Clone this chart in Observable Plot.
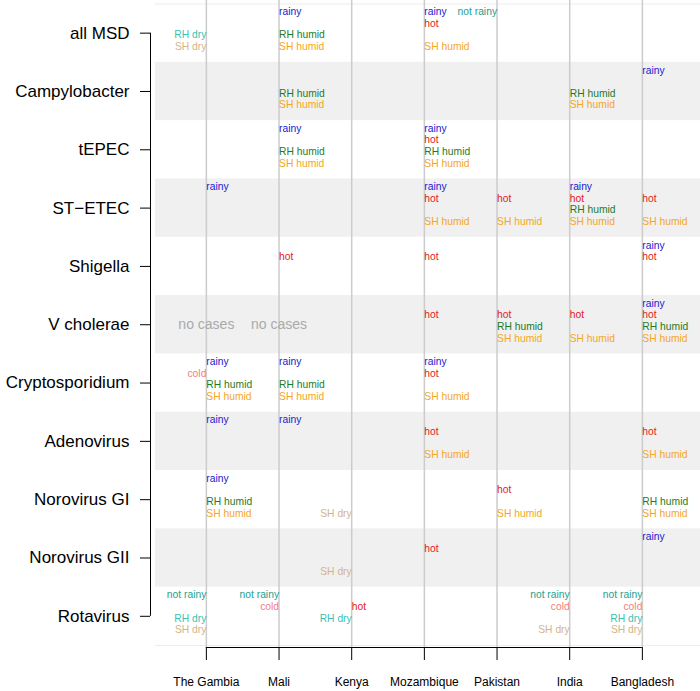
<!DOCTYPE html>
<html>
<head>
<meta charset="utf-8">
<script src="https://cdn.jsdelivr.net/npm/d3@7"></script>
<script src="https://cdn.jsdelivr.net/npm/@observablehq/plot@0.6"></script>
<style>
  html, body { margin: 0; padding: 0; background: white; }
</style>
</head>
<body>
<div id="chart"></div>
<script>
// ---- data ----
const pathogens = ["all MSD", "Campylobacter", "tEPEC", "ST\u2212ETEC", "Shigella", "V cholerae",
  "Cryptosporidium", "Adenovirus", "Norovirus GI", "Norovirus GII", "Rotavirus"];
const countries = ["The Gambia", "Mali", "Kenya", "Mozambique", "Pakistan", "India", "Bangladesh"];

// [pathogen, country, association]
const associations = [
  ["all MSD", "The Gambia", "RH dry"],
  ["all MSD", "The Gambia", "SH dry"],
  ["all MSD", "Mali", "rainy"],
  ["all MSD", "Mali", "RH humid"],
  ["all MSD", "Mali", "SH humid"],
  ["all MSD", "Mozambique", "rainy"],
  ["all MSD", "Mozambique", "hot"],
  ["all MSD", "Mozambique", "SH humid"],
  ["all MSD", "Pakistan", "not rainy"],

  ["Campylobacter", "Mali", "RH humid"],
  ["Campylobacter", "Mali", "SH humid"],
  ["Campylobacter", "India", "RH humid"],
  ["Campylobacter", "India", "SH humid"],
  ["Campylobacter", "Bangladesh", "rainy"],

  ["tEPEC", "Mali", "rainy"],
  ["tEPEC", "Mali", "RH humid"],
  ["tEPEC", "Mali", "SH humid"],
  ["tEPEC", "Mozambique", "rainy"],
  ["tEPEC", "Mozambique", "hot"],
  ["tEPEC", "Mozambique", "RH humid"],
  ["tEPEC", "Mozambique", "SH humid"],

  ["ST\u2212ETEC", "The Gambia", "rainy"],
  ["ST\u2212ETEC", "Mozambique", "rainy"],
  ["ST\u2212ETEC", "Mozambique", "hot"],
  ["ST\u2212ETEC", "Mozambique", "SH humid"],
  ["ST\u2212ETEC", "Pakistan", "hot"],
  ["ST\u2212ETEC", "Pakistan", "SH humid"],
  ["ST\u2212ETEC", "India", "rainy"],
  ["ST\u2212ETEC", "India", "hot"],
  ["ST\u2212ETEC", "India", "RH humid"],
  ["ST\u2212ETEC", "India", "SH humid"],
  ["ST\u2212ETEC", "Bangladesh", "hot"],
  ["ST\u2212ETEC", "Bangladesh", "SH humid"],

  ["Shigella", "Mali", "hot"],
  ["Shigella", "Mozambique", "hot"],
  ["Shigella", "Bangladesh", "rainy"],
  ["Shigella", "Bangladesh", "hot"],

  ["V cholerae", "Mozambique", "hot"],
  ["V cholerae", "Pakistan", "hot"],
  ["V cholerae", "Pakistan", "RH humid"],
  ["V cholerae", "Pakistan", "SH humid"],
  ["V cholerae", "India", "hot"],
  ["V cholerae", "India", "SH humid"],
  ["V cholerae", "Bangladesh", "rainy"],
  ["V cholerae", "Bangladesh", "hot"],
  ["V cholerae", "Bangladesh", "RH humid"],
  ["V cholerae", "Bangladesh", "SH humid"],

  ["Cryptosporidium", "The Gambia", "rainy"],
  ["Cryptosporidium", "The Gambia", "cold"],
  ["Cryptosporidium", "The Gambia", "RH humid"],
  ["Cryptosporidium", "The Gambia", "SH humid"],
  ["Cryptosporidium", "Mali", "rainy"],
  ["Cryptosporidium", "Mali", "RH humid"],
  ["Cryptosporidium", "Mali", "SH humid"],
  ["Cryptosporidium", "Mozambique", "rainy"],
  ["Cryptosporidium", "Mozambique", "hot"],
  ["Cryptosporidium", "Mozambique", "SH humid"],

  ["Adenovirus", "The Gambia", "rainy"],
  ["Adenovirus", "Mali", "rainy"],
  ["Adenovirus", "Mozambique", "hot"],
  ["Adenovirus", "Mozambique", "SH humid"],
  ["Adenovirus", "Bangladesh", "hot"],
  ["Adenovirus", "Bangladesh", "SH humid"],

  ["Norovirus GI", "The Gambia", "rainy"],
  ["Norovirus GI", "The Gambia", "RH humid"],
  ["Norovirus GI", "The Gambia", "SH humid"],
  ["Norovirus GI", "Kenya", "SH dry"],
  ["Norovirus GI", "Pakistan", "hot"],
  ["Norovirus GI", "Pakistan", "SH humid"],
  ["Norovirus GI", "Bangladesh", "RH humid"],
  ["Norovirus GI", "Bangladesh", "SH humid"],

  ["Norovirus GII", "Kenya", "SH dry"],
  ["Norovirus GII", "Mozambique", "hot"],
  ["Norovirus GII", "Bangladesh", "rainy"],

  ["Rotavirus", "The Gambia", "not rainy"],
  ["Rotavirus", "The Gambia", "RH dry"],
  ["Rotavirus", "The Gambia", "SH dry"],
  ["Rotavirus", "Mali", "not rainy"],
  ["Rotavirus", "Mali", "cold"],
  ["Rotavirus", "Kenya", "hot"],
  ["Rotavirus", "Kenya", "RH dry"],
  ["Rotavirus", "India", "not rainy"],
  ["Rotavirus", "India", "cold"],
  ["Rotavirus", "India", "SH dry"],
  ["Rotavirus", "Bangladesh", "not rainy"],
  ["Rotavirus", "Bangladesh", "cold"],
  ["Rotavirus", "Bangladesh", "RH dry"],
  ["Rotavirus", "Bangladesh", "SH dry"]
];

const noCases = [
  ["V cholerae", "The Gambia"],
  ["V cholerae", "Mali"]
];

// ---- styling ----
const slotDy = [-21.2, -9.6, 2, 13.6];
const labelStyle = {
  "rainy":     {slot: 0, anchor: "start", color: "#2020d0"},
  "not rainy": {slot: 0, anchor: "end",   color: "#26a090"},
  "hot":       {slot: 1, anchor: "start", color: "#e31a1c"},
  "cold":      {slot: 1, anchor: "end",   color: "#f08080"},
  "RH humid":  {slot: 2, anchor: "start", color: "#1f7a1f"},
  "RH dry":    {slot: 2, anchor: "end",   color: "#3cbfb2"},
  "SH humid":  {slot: 3, anchor: "start", color: "#f5a623"},
  "SH dry":    {slot: 3, anchor: "end",   color: "#d2b48c"}
};

const xDomain = [-0.7, 6.8];
const yDomain = [10.535, -0.56];
const rowIdx = d3.range(pathogens.length);
const colIdx = d3.range(countries.length);
const bandRows = rowIdx.filter(i => i % 2 === 1);

const textMarks = Object.entries(labelStyle).map(([key, s]) =>
  Plot.text(associations.filter(d => d[2] === key), {
    x: d => countries.indexOf(d[1]),
    y: d => pathogens.indexOf(d[0]),
    text: d => d[2],
    fill: s.color,
    textAnchor: s.anchor,
    dy: slotDy[s.slot],
    fontSize: 10.3
  })
);

const chart = Plot.plot({
  width: 700,
  height: 691,
  marginLeft: 155,
  marginRight: 0,
  marginTop: 0,
  marginBottom: 44,
  x: {domain: xDomain, axis: null},
  y: {domain: yDomain, axis: null},
  style: {fontFamily: "'Liberation Sans', Arial, Helvetica, sans-serif", background: "white", color: "black"},
  marks: [
    Plot.rect(bandRows, {x1: xDomain[0], x2: xDomain[1], y1: i => i - 0.5, y2: i => i + 0.5, fill: "#f0f0f0"}),
    Plot.ruleY([-0.5, pathogens.length - 0.5], {x1: xDomain[0], x2: xDomain[1], stroke: "#ececec", strokeWidth: 1}),
    Plot.ruleX(colIdx, {stroke: "#cccccc", strokeWidth: 1.5}),
    ...textMarks,
    Plot.text(noCases, {
      x: d => countries.indexOf(d[1]),
      y: d => pathogens.indexOf(d[0]),
      text: () => "no cases",
      fill: "#aaaaaa",
      fontSize: 14
    }),
    // axes
    Plot.ruleX([xDomain[0]], {y1: 0, y2: pathogens.length - 1, dx: -5, stroke: "black"}),
    Plot.axisY(rowIdx, {anchor: "left", tickSize: 10, tickPadding: 11, dx: -5, fontSize: 17,
      tickFormat: i => pathogens[i], label: null, stroke: "black"}),
    Plot.ruleY([yDomain[0]], {x1: 0, x2: countries.length - 1, stroke: "black"}),
    Plot.axisX(colIdx, {anchor: "bottom", tickSize: 13, tickPadding: 17, fontSize: 12,
      tickFormat: i => countries[i], label: null, stroke: "black"})
  ]
});
document.getElementById("chart").appendChild(chart);
</script>
</body>
</html>
